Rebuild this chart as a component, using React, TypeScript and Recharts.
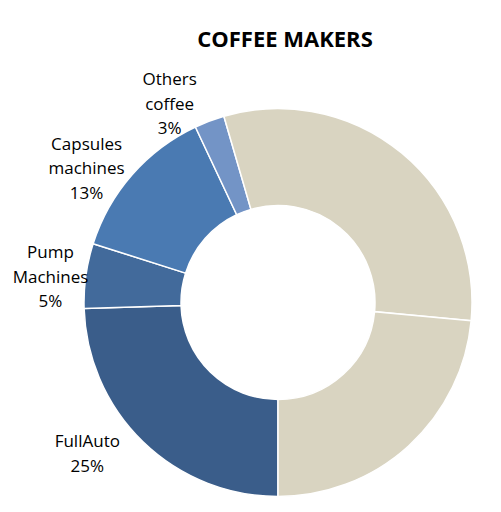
import React from "react";
import { PieChart, Pie, Cell } from "recharts";

const categories = [
  "FullAuto",
  "Pump\nMachines",
  "Capsules\nmachines",
  "Others\ncoffee",
  "Rest A",
  "Rest B",
];
const shares = [24.5, 5.4, 13.1, 2.5, 31.0, 23.5];
const showLabel = [true, true, true, true, false, false];
const colors = ["#3A5D8A", "#426A9B", "#4A7AB2", "#7394C6", "#D9D4C1", "#D9D4C1"];

// label nudges (angle shift in degrees, distance past the outer edge)
const labelShift = [-7.6, 1.4, 6.1, 7.8, 0, 0];
const labelGap = [49, 35, 40, 33, 0, 0];

const data = categories.map((name, i) => ({ name, value: shares[i] }));

const RAD = Math.PI / 180;

const renderLabel = (props: any) => {
  const { cx, cy, midAngle, outerRadius, index, value, name } = props;
  if (!showLabel[index]) return null;
  const angle = (midAngle + labelShift[index]) * RAD;
  const r = outerRadius + labelGap[index];
  const x = cx + r * Math.cos(-angle);
  const y = cy + r * Math.sin(-angle);
  const lines = [...String(name).split("\n"), `${Math.round(value)}%`];
  const lh = 24.5;
  return (
    <text
      x={x}
      y={y}
      textAnchor="middle"
      fill="#000"
      fontSize={17}
      fontFamily="'Open Sans', sans-serif"
    >
      {lines.map((l, i) => (
        <tspan
          key={i}
          x={x}
          y={y + (i - (lines.length - 1) / 2) * lh}
          dominantBaseline="central"
        >
          {l}
        </tspan>
      ))}
    </text>
  );
};

export default function App() {
  return (
    <div style={{ position: "relative", width: 485, height: 496 }}>
      <div
        style={{
          position: "absolute",
          left: 127,
          top: 18,
          width: 300,
          textAlign: "center",
          fontFamily: "'Open Sans', sans-serif",
          fontWeight: 700,
          fontSize: 22,
          lineHeight: "24px",
          color: "#000",
        }}
      >
        COFFEE MAKERS
      </div>
      <PieChart width={485} height={496}>
        <Pie
          data={data}
          dataKey="value"
          nameKey="name"
          cx={265}
          cy={289.5}
          innerRadius={97}
          outerRadius={194}
          startAngle={270}
          endAngle={-90}
          stroke="#fff"
          strokeWidth={1.5}
          label={renderLabel}
          labelLine={false}
          isAnimationActive={false}
        >
          {data.map((d, i) => (
            <Cell key={d.name} fill={colors[i]} />
          ))}
        </Pie>
      </PieChart>
    </div>
  );
}
